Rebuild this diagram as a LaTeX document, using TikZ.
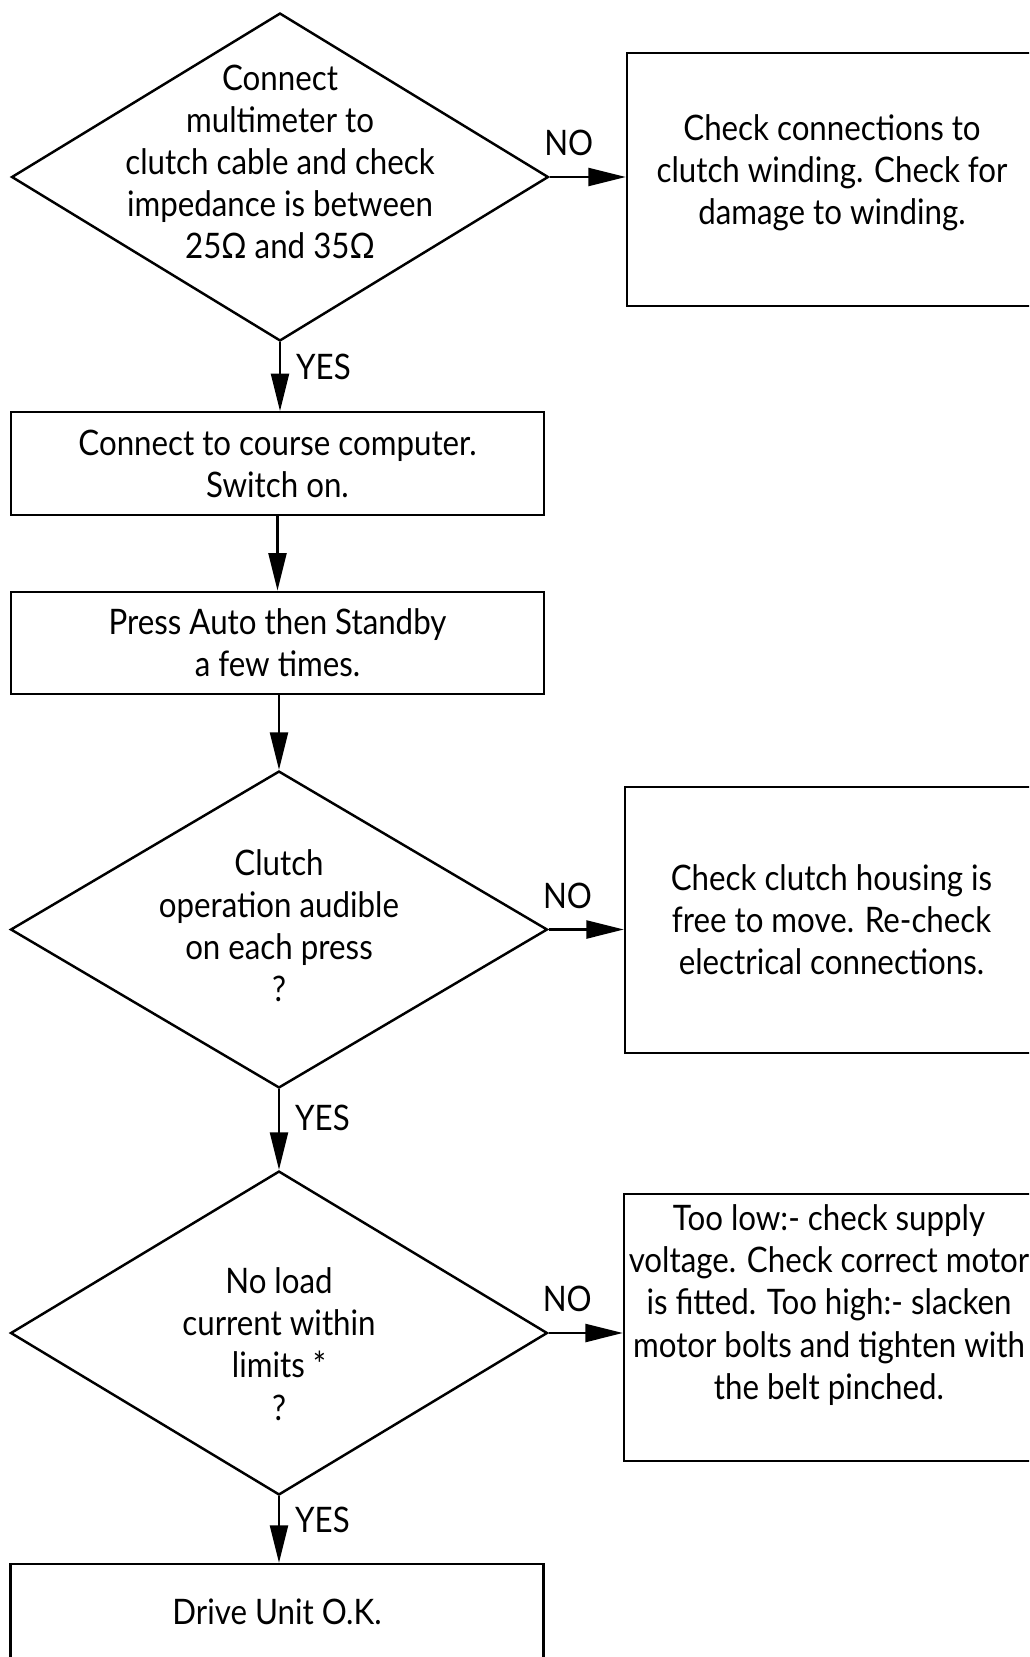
\documentclass[tikz,border=0pt]{standalone}
\usepackage{fontspec}
\setmainfont{Lato}[FakeStretch=0.89]
\usetikzlibrary{arrows.meta,shapes.geometric,positioning}

\begin{document}
\begin{tikzpicture}[x=0.02cm, y=-0.02cm,
      txt/.style={align=center, inner sep=0pt,
                  font=\fontsize{20}{24}\selectfont},
      dec/.style={draw, diamond, line width=1.4pt, inner sep=0pt,
                  minimum width=10.74cm},
      box/.style={draw, line width=1.4pt, txt,
                  minimum width=10.66cm, minimum height=2.05cm},
      rbox/.style={draw, line width=1.4pt, txt,
                   minimum width=8.2cm, minimum height=5.1cm},
      arr/.style={-{Triangle[length=0.75cm, width=0.36cm]}, line width=1.4pt},
      yes/.style={txt, anchor=west, pos=0.36, xshift=0.3cm},
      no/.style={txt, anchor=south, pos=0.25, yshift=0.4cm}
  ]
    \path[use as bounding box, clip] (0,0) rectangle (1029,1657);

    % main column
    \node[dec, minimum height=6.56cm] (d1) at (280,177) {};
    \node[txt] (t1) at ([yshift=0.3cm]d1.center)
      {Connect\\ multimeter to\\ clutch cable and check\\ impedance is between\\ 25Ω and 35Ω};
    \node[box] (b2) at (277.5,463.5) {Connect to course computer.\\ Switch on.};
    \node[box] (b3) at (277.5,643) {Press Auto then Standby\\ a few times.};
    \node[dec, minimum height=6.34cm] (d2) at (279,929.5) {};
    \node[txt] (t2) at ([yshift=0.08cm]d2.center)
      {Clutch\\ operation audible\\ on each press\\ ?};
    \node[dec, minimum height=6.48cm] (d3) at (279,1333) {};
    \node[txt] (t3) at ([yshift=-0.22cm]d3.center)
      {No load\\ current within\\ limits *\\ ?};
    \node[box, minimum height=1.92cm] (b4) at (277,1612) {Drive Unit O.K.};

    % right column
    \node[rbox, minimum height=5.06cm] (r1) at (832,179.5) {};
    \node[txt] (t1r) at ([yshift=0.13cm]r1.center)
      {Check connections to\\ clutch winding. Check for\\ damage to winding.};
    \node[rbox, minimum width=8.26cm, minimum height=5.32cm] (r2) at (831.5,920)
      {Check clutch housing is\\ free to move. Re-check\\ electrical connections.};
    \node[rbox, minimum height=5.34cm] (r3) at (829,1327.5) {};
    \node[txt] (t3r) at ([yshift=0.45cm]r3.center)
      {Too low:- check supply\\ voltage. Check correct motor\\ is fitted. Too high:- slacken\\ motor bolts and tighten with\\ the belt pinched.};

    % connectors
    \draw[arr] (d1.south) -- (d1.south |- b2.north) node[yes] {YES};
    \draw[arr] (b2) -- (b3);
    \draw[arr] (b3.south -| d2.north) -- (d2.north);
    \draw[arr] (d2.south) -- (d3.north) node[yes] {YES};
    \draw[arr] (d3.south) -- (d3.south |- b4.north) node[yes] {YES};
    \draw[arr] (d1.east) -- (d1.east -| r1.west) node[no] {NO};
    \draw[arr] (d2.east) -- (d2.east -| r2.west) node[no] {NO};
    \draw[arr] (d3.east) -- (d3.east -| r3.west) node[no] {NO};
  \end{tikzpicture}
\end{document}
